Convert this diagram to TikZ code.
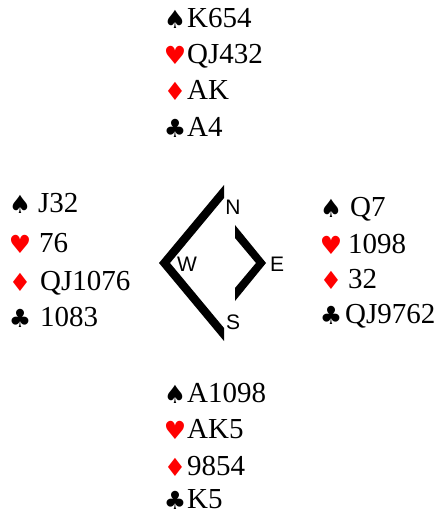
\documentclass[tikz,border=0pt]{standalone}
\usepackage{fontspec}
\setmainfont{Liberation Serif}
\newfontfamily\suitfont{DejaVu Sans}
\newfontfamily\dirfont{Liberation Sans}
\definecolor{SuitRed}{rgb}{1,0,0}
\newcommand{\Spade}{{\suitfont\char"2660}}
\newcommand{\Heart}{{\suitfont\color{SuitRed}\char"2665}}
\newcommand{\Diam}{{\suitfont\color{SuitRed}\char"2666}}
\newcommand{\Club}{{\suitfont\char"2663}}

\begin{document}
\begin{tikzpicture}[x=1pt,y=-1pt,
  cards/.style={anchor=base west,inner sep=0pt,font=\fontsize{29}{35}\selectfont},
  suit/.style={anchor=base,inner sep=0pt,font=\fontsize{25}{30}\selectfont},
  dir/.style={inner sep=0pt,font=\dirfont\fontsize{21}{24}\selectfont}]
\useasboundingbox (0,0) rectangle (444,518);

% North
\foreach \y/\s/\c [count=\i] in {28/\Spade/K654,64/\Heart/QJ432,100/\Diam/AK,137/\Club/A4}{
  \node[suit] (ns\i) at (175,\y+1) {\s};
  \node[cards] (n\i) at (187,\y) {\c};
}

% West
\foreach \y/\s/\x/\c [count=\i] in {213/\Spade/38/J32,252/\Heart/39/76,290/\Diam/40/QJ1076,326/\Club/40/1083}{
  \node[suit] (ws\i) at (20,\y+1) {\s};
  \node[cards] (w\i) at (\x,\y) {\c};
}

% East
\foreach \y/\s/\x/\c [count=\i] in {217/\Spade/350/Q7,253/\Heart/348/1098,288/\Diam/348/32,323/\Club/345/QJ9762}{
  \node[suit] (es\i) at (331,\y+1) {\s};
  \node[cards] (e\i) at (\x,\y) {\c};
}

% South
\foreach \y/\s/\c [count=\i] in {402/\Spade/A1098,438/\Heart/AK5,475/\Diam/9854,508/\Club/K5}{
  \node[suit] (ss\i) at (175,\y+1) {\s};
  \node[cards] (s\i) at (187,\y) {\c};
}

% compass
\fill (224,185) -- (159,263) -- (224,341) -- (224,328) -- (170,263) -- (224,198) -- cycle;
\fill (235,225) -- (266,263) -- (235,301) -- (235,288) -- (256,263) -- (235,238) -- cycle;

\node[dir] (dN) at (233,207) {N};
\node[dir] (dW) at (187,264) {W};
\node[dir] (dE) at (277,264) {E};
\node[dir] (dS) at (233,322) {S};

\end{tikzpicture}
\end{document}
